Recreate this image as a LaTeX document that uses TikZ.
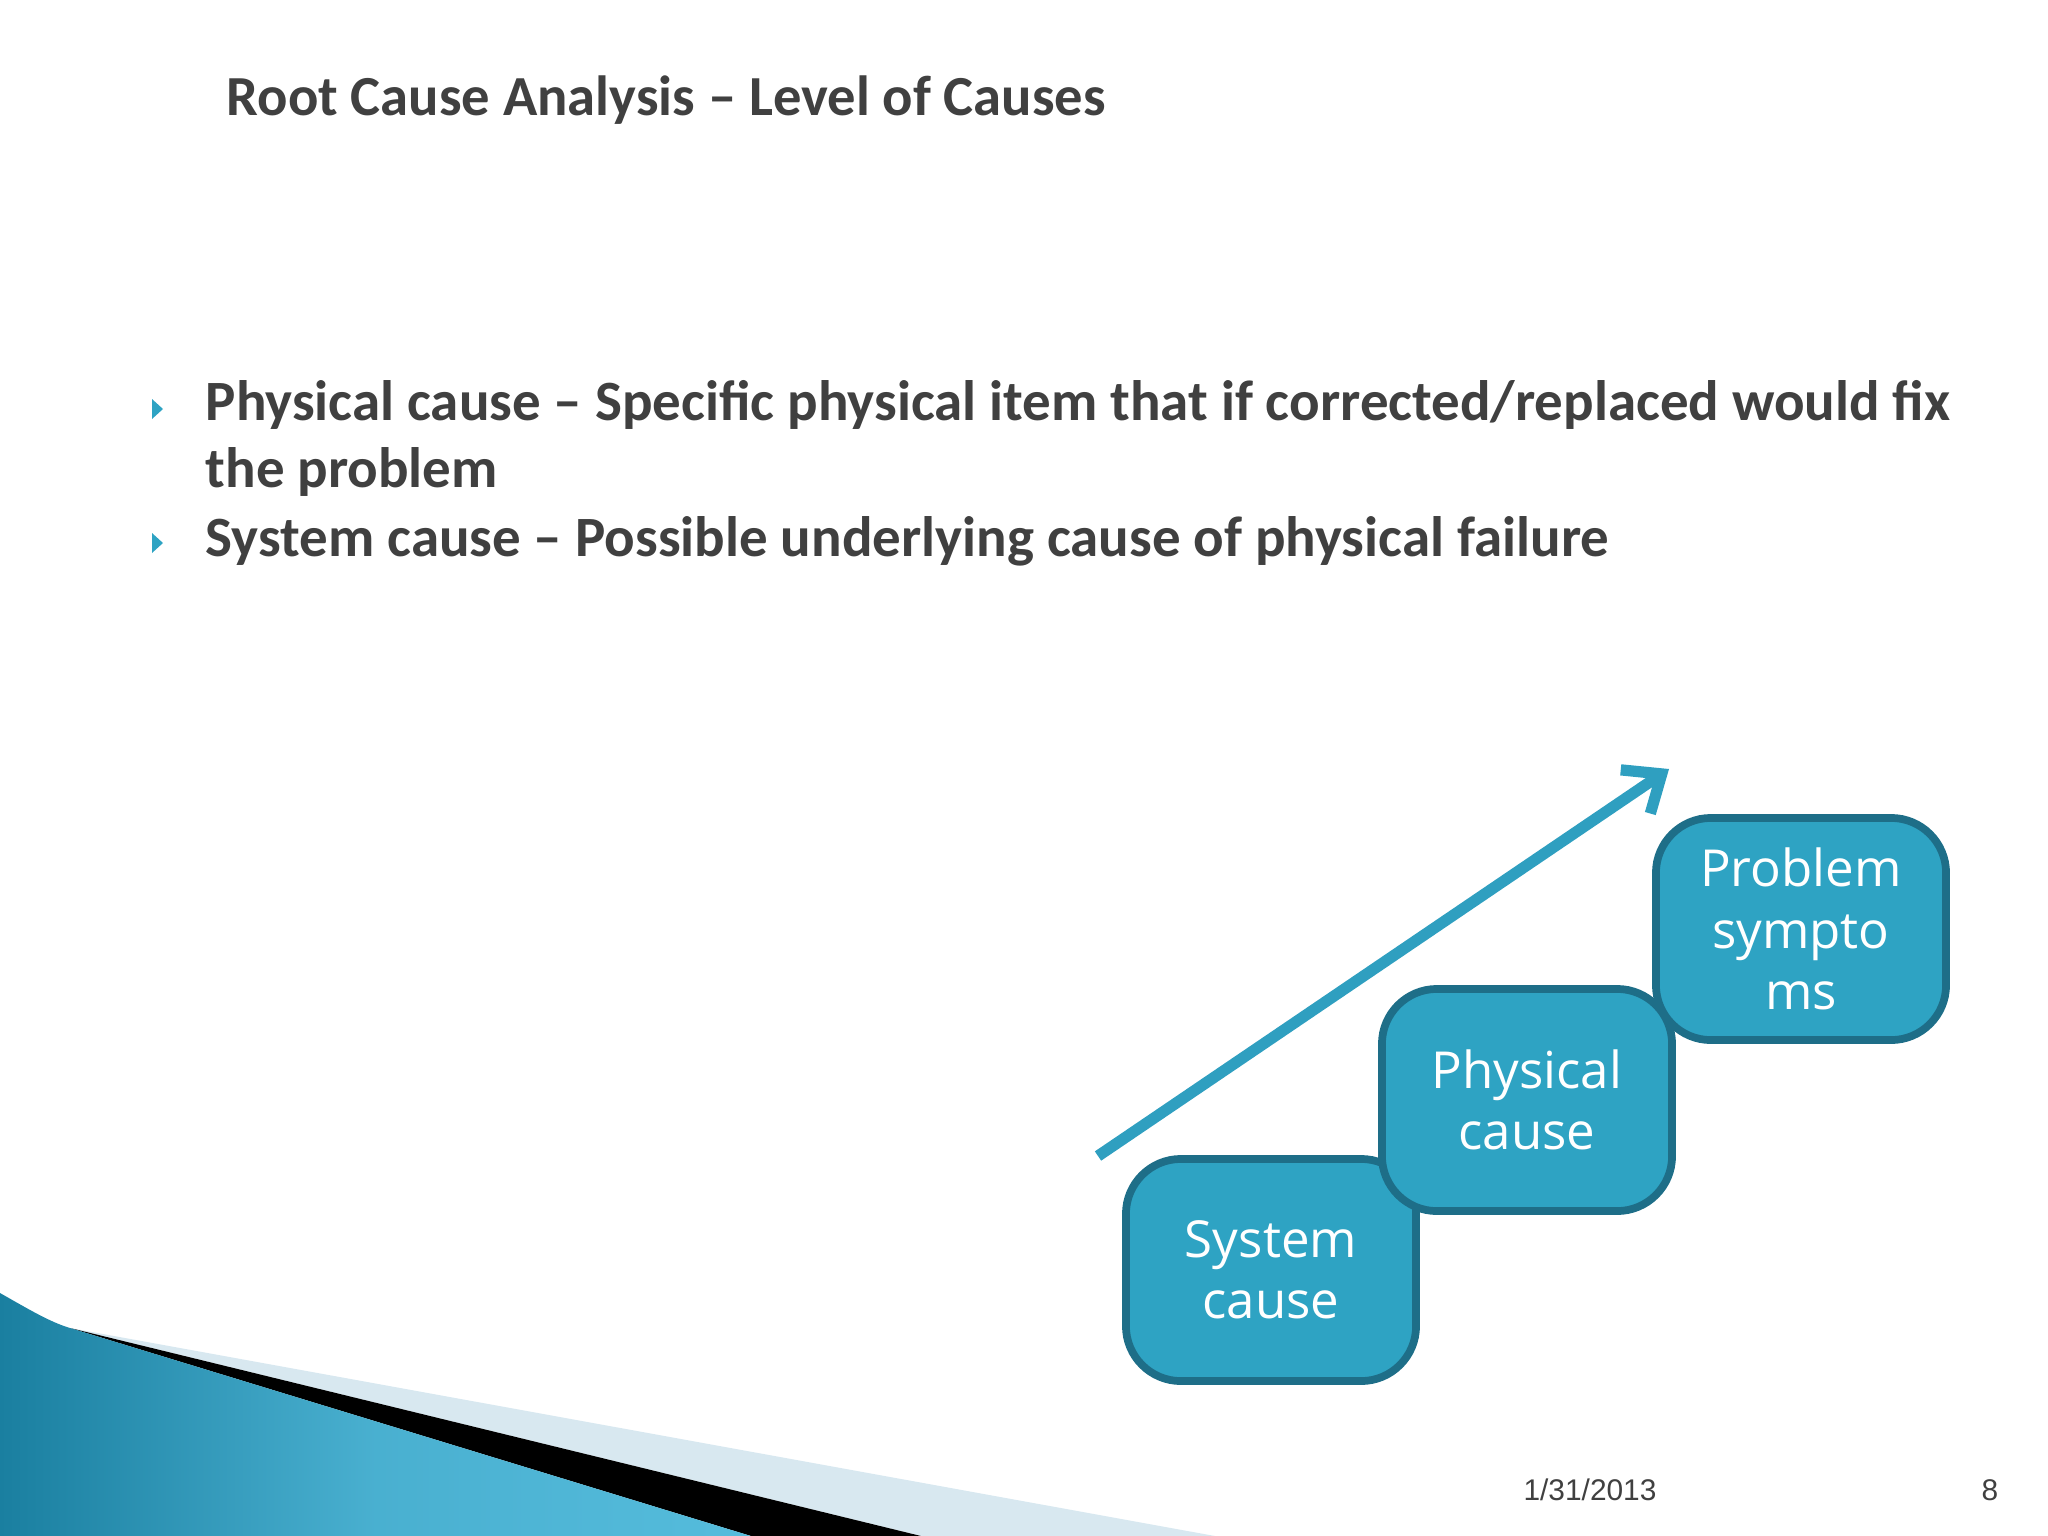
\documentclass[tikz,border=0pt]{standalone}
\usepackage{fontspec}
\usetikzlibrary{arrows.meta}
\setmainfont{Carlito}
\newfontfamily\datefont{Liberation Sans}
\newfontfamily\boxfont{Open Sans}
\begin{document}
\begin{tikzpicture}[x=0.01cm,y=-0.01cm,
  stepbox/.style={draw=boxedge,fill=boxfill,line width=2.2pt,rounded corners=0.55cm,
    minimum width=2.9cm,minimum height=2.22cm,text=white,align=center,
    font=\boxfont\fontsize{14.5}{17.4}\selectfont,inner sep=2pt},
  bul/.style={anchor=west,text=txt,font=\bfseries\fontsize{16.2}{19}\selectfont,inner sep=0pt}]
\definecolor{boxfill}{HTML}{2EA3C3}
\definecolor{boxedge}{HTML}{1E6E88}
\definecolor{arrcol}{HTML}{2F9FC0}
\definecolor{txt}{HTML}{404040}
\definecolor{tricol}{HTML}{2EA3C3}
\definecolor{lightb}{HTML}{D8E8F0}
\definecolor{blueA}{HTML}{1A7FA0}
\definecolor{blueB}{HTML}{55BCDC}
\useasboundingbox (0,0) rectangle (2048,1536);
% bottom-left decoration
\fill[lightb] (70,1328) -- (1215,1536) -- (921,1536) -- cycle;
\fill[black] (70,1328) -- (921,1536) -- (751,1536) -- cycle;
\shade[left color=blueA,right color=blueB,middle color=blueB!80!blueA] (0,1293) .. controls (30,1310) and (50,1322) .. (70,1328) -- (751,1536) -- (0,1536) -- cycle;
% title
\node[anchor=west,text=txt,font=\bfseries\fontsize{16.1}{19}\selectfont,inner sep=0pt] (title) at (226,100) {Root Cause Analysis -- Level of Causes};
% bullets
\fill[tricol] (152,399) -- (163,409) -- (152,419) -- cycle;
\fill[tricol] (152,533) -- (163,543) -- (152,553) -- cycle;
\node[bul] (b1) at (205,405) {Physical cause -- Specific physical item that if corrected/replaced would fix};
\node[bul] (b1b) at (205,472) {the problem};
\node[bul] (b2) at (205,541) {System cause -- Possible underlying cause of physical failure};
% steps
\coordinate (s0) at (1098,1156);
\coordinate (s1) at (1669,769);
\draw[arrcol,line width=3.2pt,-{Straight Barb[length=9pt,width=15pt,line width=3.2pt]}] (s0) -- (s1);
\node[stepbox] (sys) at (1271,1270) {System\\cause};
\node[stepbox] (phy) at (1527,1100) {Physical\\cause};
\node[stepbox] (prob) at (1801,929) {Problem\\sympto\\ms};
% footer
\node[font=\datefont\fontsize{8.5}{10}\selectfont,text=txt] (date) at (1590,1490) {1/31/2013};
\node[font=\datefont\fontsize{8.5}{10}\selectfont,text=txt] (pg) at (1990,1490) {8};
\end{tikzpicture}
\end{document}
